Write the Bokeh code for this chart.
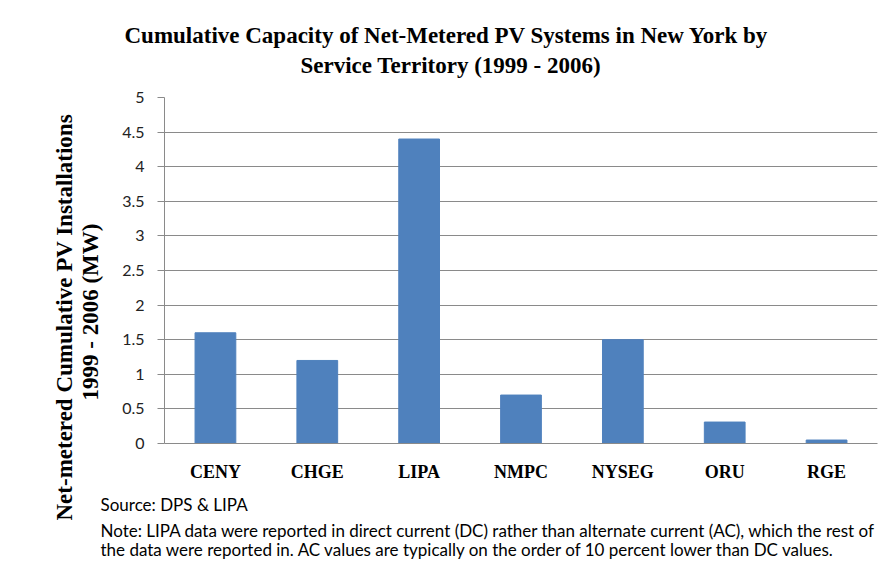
from bokeh.plotting import figure
from bokeh.models import Title, FixedTicker, FactorRange, Range1d, ColumnDataSource
from bokeh.embed import file_html
from bokeh.resources import INLINE

# ---- data ----
categories = ["CENY", "CHGE", "LIPA", "NMPC", "NYSEG", "ORU", "RGE"]
capacity_mw = [1.6, 1.2, 4.4, 0.7, 1.5, 0.31, 0.05]
y_ticks = [0, 0.5, 1, 1.5, 2, 2.5, 3, 3.5, 4, 4.5, 5]
y_tick_labels = ["0", "0.5", "1", "1.5", "2", "2.5", "3", "3.5", "4", "4.5", "5"]
title_lines = ["Cumulative Capacity of Net-Metered PV Systems  in New York by",
               "Service Territory (1999 - 2006)"]
y_title_lines = ["Net-metered Cumulative PV Installations", "1999 - 2006 (MW)"]
footnote_lines = [
    "Source: DPS & LIPA",
    "Note: LIPA data were reported in direct current (DC) rather than alternate current (AC), which the rest of",
    "the data were reported in.  AC values are typically on the order of 10 percent lower than DC values.",
]

BAR = "#4F81BD"
GRID = "#8A8A8A"
SERIF = "Liberation Serif"
SANS = "Lato"

source = ColumnDataSource(data=dict(cat=categories, val=capacity_mw))

p = figure(width=881, height=561,
           x_range=FactorRange(*categories),
           y_range=Range1d(0, 5),
           output_backend="svg", toolbar_location=None,
           min_border_left=164, min_border_right=4,
           min_border_top=97, min_border_bottom=118)

p.vbar(x="cat", top="val", width=0.4, source=source,
       fill_color=BAR, line_color=BAR)

p.outline_line_color = None
p.background_fill_color = "white"
p.border_fill_color = "white"

# y axis
p.yaxis.ticker = FixedTicker(ticks=y_ticks)
p.yaxis.major_label_overrides = dict(zip(y_ticks, y_tick_labels))
p.yaxis.major_tick_out = 7
p.yaxis.major_tick_in = 0
p.yaxis.minor_tick_line_color = None
p.yaxis.axis_line_color = GRID
p.yaxis.major_tick_line_color = GRID
p.yaxis.major_label_text_font = SANS
p.yaxis.major_label_text_font_size = "16px"
p.yaxis.major_label_text_color = "#222222"
p.yaxis.major_label_standoff = 13

p.ygrid.ticker = FixedTicker(ticks=y_ticks)
p.ygrid.grid_line_color = GRID
p.ygrid.grid_line_width = 1
p.xgrid.grid_line_color = None

# x axis
p.xaxis.major_tick_line_color = None
p.xaxis.minor_tick_line_color = None
p.xaxis.axis_line_color = GRID
p.xaxis.major_label_text_font = SERIF
p.xaxis.major_label_text_font_style = "bold"
p.xaxis.major_label_text_font_size = "18px"
p.xaxis.major_label_text_color = "black"
p.xaxis.major_label_standoff = 12

def style(t, font, size, bold):
    t.text_font = font
    t.text_font_size = size
    t.text_font_style = "bold" if bold else "normal"
    t.text_color = "black"

# title: first line is the figure's own title (outermost), second line added closer
p.title.text = title_lines[0]
p.title.align = "left"
p.title.offset = -40
p.title.standoff = -34
style(p.title, SERIF, "23px", True)

t2 = Title(text=title_lines[1], align="left", offset=136, standoff=40)
style(t2, SERIF, "23px", True)
p.add_layout(t2, "above")

# y-axis title (two lines, rotated, on the left)
yt2 = Title(text=y_title_lines[1], align="left", offset=43, standoff=34)
style(yt2, SERIF, "23px", True)
p.add_layout(yt2, "left")
yt1 = Title(text=y_title_lines[0], align="left", offset=-77, standoff=-36)
style(yt1, SERIF, "23px", True)
p.add_layout(yt1, "left")

# footnotes below the category axis
for txt, so in zip(footnote_lines, [15, -9, 1]):
    ft = Title(text=txt, align="left", offset=-64, standoff=so)
    style(ft, SANS, "17px", False)
    p.add_layout(ft, "below")

open("out.html", "w").write(file_html(p, INLINE))
